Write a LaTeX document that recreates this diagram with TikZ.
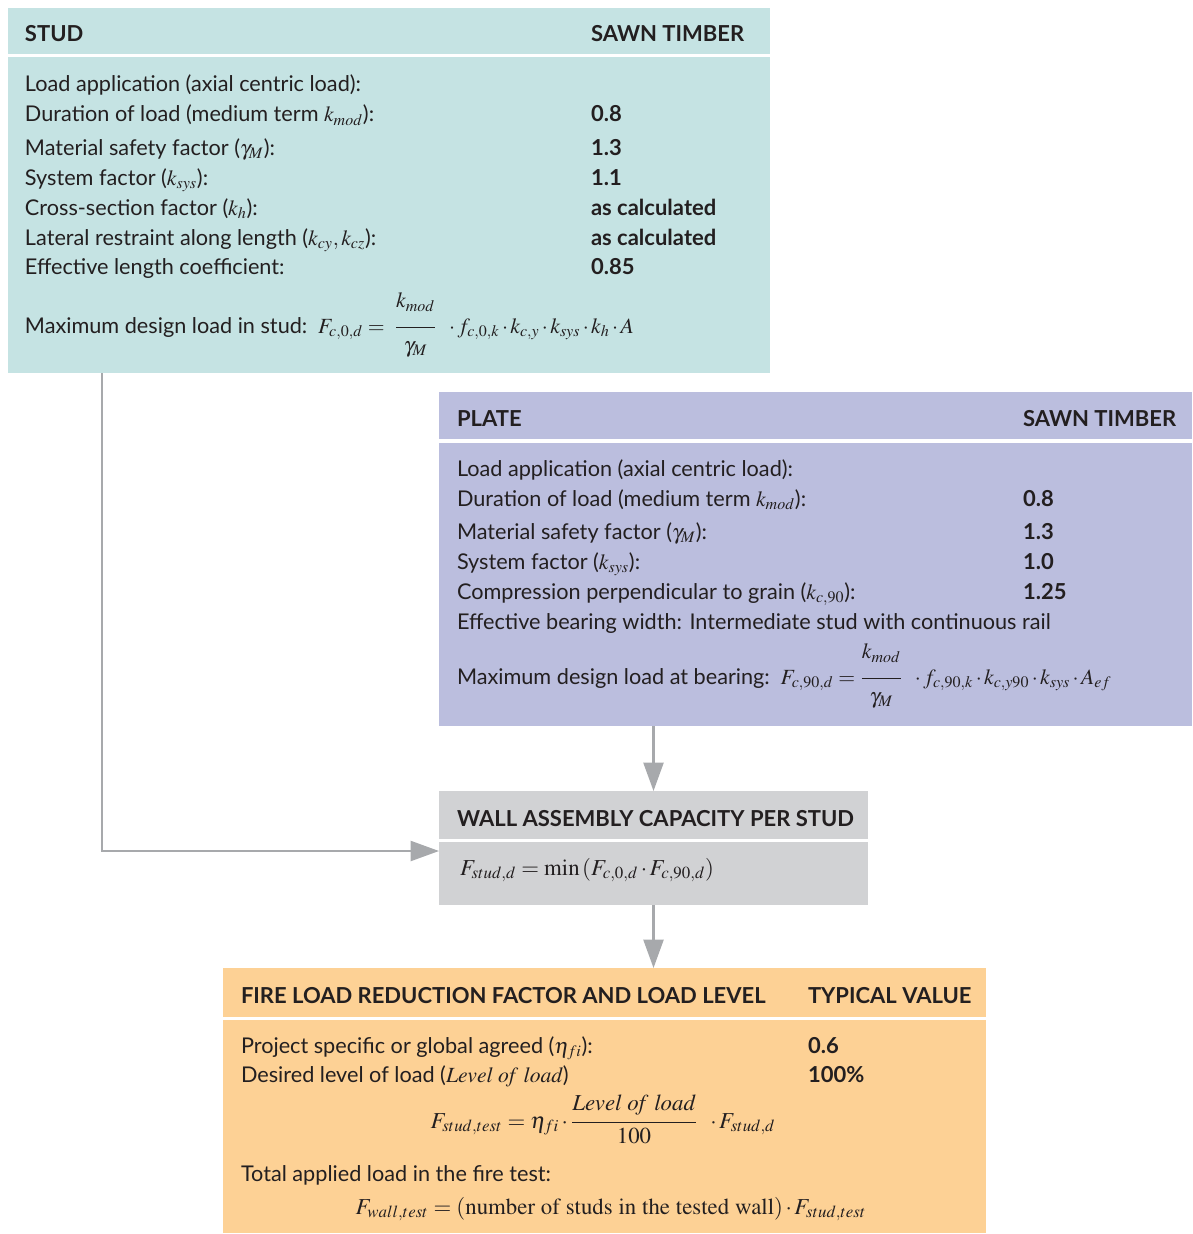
\documentclass[tikz,border=0pt]{standalone}
\usepackage{amsmath}
\usepackage{mathptmx}
\usepackage[no-math]{fontspec}
\setmainfont{Lato}
\usetikzlibrary{arrows.meta}

\definecolor{studcol}{HTML}{C5E3E3}
\definecolor{platecol}{HTML}{BBBEDE}
\definecolor{wallcol}{HTML}{D1D2D4}
\definecolor{firecol}{HTML}{FDD195}
\definecolor{linkcol}{HTML}{A7A9AC}
\definecolor{ink}{HTML}{231F20}

\newcommand{\mdot}{\,{\cdot}\,}
\newcommand{\tallfrac}[4]{\dfrac{#1\rule[-#3]{0pt}{#3}}{\rule{0pt}{#4}#2}}

\begin{document}
\begin{tikzpicture}[x=0.6pt, y=-0.6pt, >={Triangle[length=17pt,width=12pt]},
                    panel/.style 2 args={anchor=north west, inner sep=0pt,
                      minimum width=#1*0.6pt, minimum height=#2*0.6pt},
                    link/.style={->, draw=linkcol, line width=1.3pt}]
  \tikzstyle{every node}=[inner sep=0pt, outer sep=0pt, text=ink]
  \tikzstyle{head}=[anchor=base west, yshift=-1.2pt, font=\fontsize{13.2}{16}\selectfont\bfseries]
  \tikzstyle{txt}=[anchor=base west, yshift=-1.2pt, font=\fontsize{13}{16}\selectfont]
  \tikzstyle{val}=[anchor=base west, yshift=-1.2pt, font=\fontsize{13.2}{16}\selectfont\bfseries]
  \tikzstyle{eqn}=[anchor=base, font=\fontsize{13.7}{16}\selectfont]

  \useasboundingbox (0,0) rectangle (1192,1234);

  \node[panel={762}{46}, fill=studcol]  (studhead) at (8,8) {};
  \node[panel={762}{316}, fill=studcol] (studbody) at (8,57) {};
  \node[head] (studtitle) at (25,40)  {STUD};
  \node[head] (studkind)  at (591,40) {SAWN TIMBER};
  \node[txt]  (studload)  at (25,90)  {Load application (axial centric load):};
  \node[txt]  (studdur)   at (25,120) {Duration of load (medium term $k_{mod}$):};
  \node[val]  (studdurv)  at (591,120) {0.8};
  \node[txt]  (studsaf)   at (25,153) {Material safety factor ($\gamma_{M}$):};
  \node[val]  (studsafv)  at (591,153) {1.3};
  \node[txt]  (studsys)   at (25,183) {System factor ($k_{sys}$):};
  \node[val]  (studsysv)  at (591,183) {1.1};
  \node[txt]  (studcross) at (25,213) {Cross-section factor ($k_h$):};
  \node[val]  (studcrossv) at (591,213) {as calculated};
  \node[txt]  (studlat)   at (25,243) {Lateral restraint along length ($k_{cy}, k_{cz}$):};
  \node[val]  (studlatv)  at (591,243) {as calculated};
  \node[txt]  (studeff)   at (25,272) {Effective length coefficient:};
  \node[val]  (studeffv)  at (591,272) {0.85};
  \node[txt]  (studmax)   at (25,331) {Maximum design load in stud:\enspace
    $F_{c,0,d} = \;\tallfrac{k_{mod}}{\gamma_M}{10pt}{13pt}\;\;\mdot f_{c,0,k}\mdot k_{c,y}\mdot k_{sys}\mdot k_h\mdot A$};

  \node[panel={753}{47}, fill=platecol]  (platehead) at (439,392) {};
  \node[panel={753}{283}, fill=platecol] (platebody) at (439,443) {};
  \node[head] (platetitle) at (457,424)  {PLATE};
  \node[head] (platekind)  at (1023,424) {SAWN TIMBER};
  \node[txt]  (plateload)  at (457,474)  {Load application (axial centric load):};
  \node[txt]  (platedur)   at (457,504)  {Duration of load (medium term $k_{mod}$):};
  \node[val]  (platedurv)  at (1023,504) {0.8};
  \node[txt]  (platesaf)   at (457,537)  {Material safety factor ($\gamma_{M}$):};
  \node[val]  (platesafv)  at (1023,537) {1.3};
  \node[txt]  (platesys)   at (457,567)  {System factor ($k_{sys}$):};
  \node[val]  (platesysv)  at (1023,567) {1.0};
  \node[txt]  (platecomp)  at (457,597)  {Compression perpendicular to grain ($k_{c,90}$):};
  \node[val]  (platecompv) at (1023,597) {1.25};
  \node[txt]  (platebear)  at (457,627)  {Effective bearing width: Intermediate stud with continuous rail};
  \node[txt]  (platemax)   at (457,682)  {Maximum design load at bearing:\enspace
    $F_{c,90,d} = \tallfrac{k_{mod}}{\gamma_M}{10pt}{13pt}\;\;\mdot f_{c,90,k}\mdot k_{c,y90}\mdot k_{sys}\mdot A_{ef}$};

  \node[panel={429}{48}, fill=wallcol] (wallhead) at (439,791) {};
  \node[panel={429}{63}, fill=wallcol] (wallbody) at (439,842) {};
  \node[head] (walltitle) at (457,824) {WALL ASSEMBLY CAPACITY PER STUD};
  \node[eqn, anchor=base west] (wallmin) at (460,875)
    {$F_{stud,d} = \min\,(F_{c,0,d}\mdot F_{c,90,d})$};

  \node[panel={763}{49}, fill=firecol]  (firehead) at (223,968) {};
  \node[panel={763}{213}, fill=firecol] (firebody) at (223,1020) {};
  \node[head] (firetitle) at (241,1001) {FIRE LOAD REDUCTION FACTOR AND LOAD LEVEL};
  \node[head] (firekind)  at (808,1001) {TYPICAL VALUE};
  \node[txt]  (fireeta)   at (241,1051) {Project specific or global agreed ($\eta_{fi}$):};
  \node[val]  (fireetav)  at (808,1051) {0.6};
  \node[txt]  (firelevel) at (241,1080) {Desired level of load ($\mathit{Level\ of\ load}$)};
  \node[val]  (firelevelv) at (808,1080) {100\%};
  \node[eqn]  (firestud)  at (603,1128)
    {$F_{stud,test} = \eta_{fi}\mdot \tallfrac{\mathit{Level\ of\ load}}{100}{5pt}{10pt}\;\;\mdot F_{stud,d}$};
  \node[txt]  (firetotal) at (241,1179) {Total applied load in the fire test:};
  \node[eqn]  (firewall)  at (611,1214)
    {$F_{wall,test} = (\mathrm{number\ of\ studs\ in\ the\ tested\ wall})\mdot F_{stud,test}$};

  \draw[link] ([xshift=56.4pt]studbody.south west) |- ([yshift=-5.4pt]wallbody.north west);
  \draw[link] (platebody.south -| wallhead.north) -- (wallhead.north);
  \draw[link] (wallbody.south) -- (wallbody.south |- firehead.north);
\end{tikzpicture}
\end{document}
